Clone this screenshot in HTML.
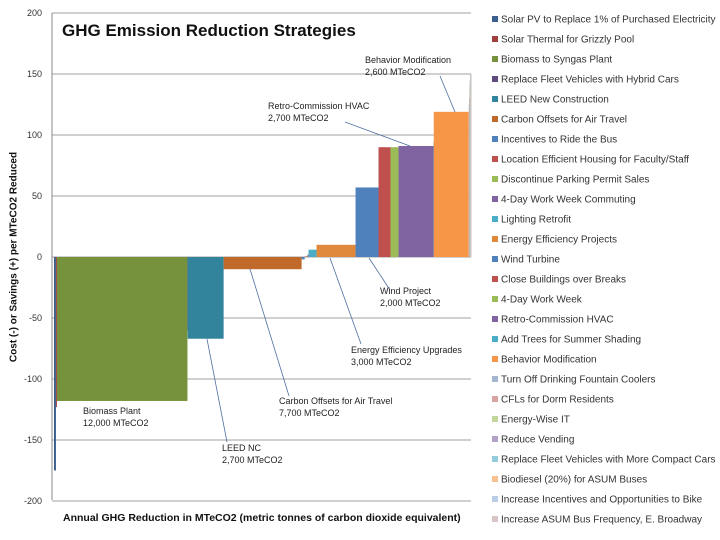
<!DOCTYPE html>
<html><head><meta charset="utf-8"><style>
body{margin:0;background:#fff;}
svg{display:block;font-family:"Liberation Sans",sans-serif;}
</style></head><body>
<svg id="c" width="720" height="540" viewBox="0 0 720 540"></svg>
<script>
const categories=["Solar PV to Replace 1% of Purchased Electricity","Solar Thermal for Grizzly Pool","Biomass to Syngas Plant","Replace Fleet Vehicles with Hybrid Cars","LEED New Construction","Carbon Offsets for Air Travel","Incentives to Ride the Bus","Location Efficient Housing for Faculty/Staff","Discontinue Parking Permit Sales","4-Day Work Week Commuting","Lighting Retrofit","Energy Efficiency Projects","Wind Turbine","Close Buildings over Breaks","4-Day Work Week","Retro-Commission HVAC","Add Trees for Summer Shading","Behavior Modification","Turn Off Drinking Fountain Coolers","CFLs for Dorm Residents","Energy-Wise IT","Reduce Vending","Replace Fleet Vehicles with More Compact Cars","Biodiesel (20%) for ASUM Buses","Increase Incentives and Opportunities to Bike","Increase ASUM Bus Frequency, E. Broadway"];
const reductions=[180,90,12050,20,3320,7200,280,180,90,90,740,3600,2120,1110,740,3230,20,3230,30,30,30,30,30,30,30,30];
const costs=[-175,-123,-118,-60,-67,-10,-2,0.5,1,2,6,10,57,90,90,91,95,119,125,130,140,145,150,150,150,150];
const yTicks=[200,150,100,50,0,-50,-100,-150,-200];
const colors=["#3a5f8f","#a0403d","#76923c","#5f4b80","#31849b","#c0692a","#4f81bd","#c0504d","#9bbb59","#8064a2","#4bacc6","#e0883c","#4f81bd","#c0504d","#9bbb59","#8064a2","#4bacc6","#f79646","#a5b6d0","#d9a3a2","#c3d69b","#b3a2c7","#93cddd","#fac090","#b9cde5","#d8c6c6"];
const NS="http://www.w3.org/2000/svg";
const svg=document.getElementById('c');
function y(v){return 257-v*(244/200);}
function x(v){return 54+v*(417/38500);}
function el(t,a,p){const e=document.createElementNS(NS,t);for(const k in a)e.setAttribute(k,a[k]);(p||svg).appendChild(e);return e;}
yTicks.forEach(t=>{
  const g=el('line',{x1:52,x2:471,y1:y(t),y2:y(t),stroke:'#a0a0a0','stroke-width':1});
  
  
  const l=el('text',{x:42,y:y(t)+3,'text-anchor':'end','font-size':9,fill:'#333'});
  l.textContent=t;
  
  
});
const ax=el('line',{x1:52,x2:52,y1:13,y2:500,stroke:'#888','stroke-width':1});


let cum=0;
reductions.forEach((w,i)=>{
  const x0=x(cum),x1=x(cum+w);cum+=w;
  const v=costs[i];
  const r=el('rect',{x:x0,y:Math.min(y(v),y(0)),width:Math.max(x1-x0,0.6),height:Math.abs(y(v)-y(0)),fill:colors[i]});
  
  
});
const ann=[
 ["Behavior Modification","2,600 MTeCO2",365,63,[440,76,455,112]],
 ["Retro-Commission HVAC","2,700 MTeCO2",268,109,[345,122,410,146]],
 ["Wind Project","2,000 MTeCO2",380,294,[369,258,390,290]],
 ["Energy Efficiency Upgrades","3,000 MTeCO2",351,353,[330,258,361,344]],
 ["Carbon Offsets for Air Travel","7,700 MTeCO2",279,404,[250,269,289,396]],
 ["LEED NC","2,700 MTeCO2",222,451,[207,339,227,442]],
 ["Biomass Plant","12,000 MTeCO2",83,414,null]
];
ann.forEach(a=>{
  if(a[4]){const l=el('line',{x1:a[4][0],y1:a[4][1],x2:a[4][2],y2:a[4][3],stroke:'#4f6f9f','stroke-width':0.8});
  
  }
  const t=el('text',{x:a[2],y:a[3],'font-size':9,fill:'#222'});t.textContent=a[0];
  
  
  const t2=el('text',{x:a[2],y:a[3]+12,'font-size':9,fill:'#222'});t2.textContent=a[1];
  
  
});
categories.forEach((c,i)=>{
  const yy=19+i*20;
  const s=el('rect',{x:492,y:yy-3,width:6,height:6,fill:colors[i]});
  
  
  const t=el('text',{x:501,y:yy+3.5,'font-size':10,fill:'#333'});t.textContent=c;
  
  
});
</script>
<div style="position:absolute;left:62px;top:21px;font:bold 17px 'Liberation Sans',sans-serif;color:#111">GHG Emission Reduction Strategies</div>
<div style="position:absolute;left:63px;top:512px;font:bold 10.5px 'Liberation Sans',sans-serif;color:#111;white-space:nowrap">Annual GHG Reduction in MTeCO2 (metric tonnes of carbon dioxide equivalent)</div>
<div style="position:absolute;left:14px;top:257px;transform:translate(-50%,-50%) rotate(-90deg);font:bold 10px 'Liberation Sans',sans-serif;color:#111;white-space:nowrap">Cost (-) or Savings (+) per MTeCO2 Reduced</div>
</body></html>
